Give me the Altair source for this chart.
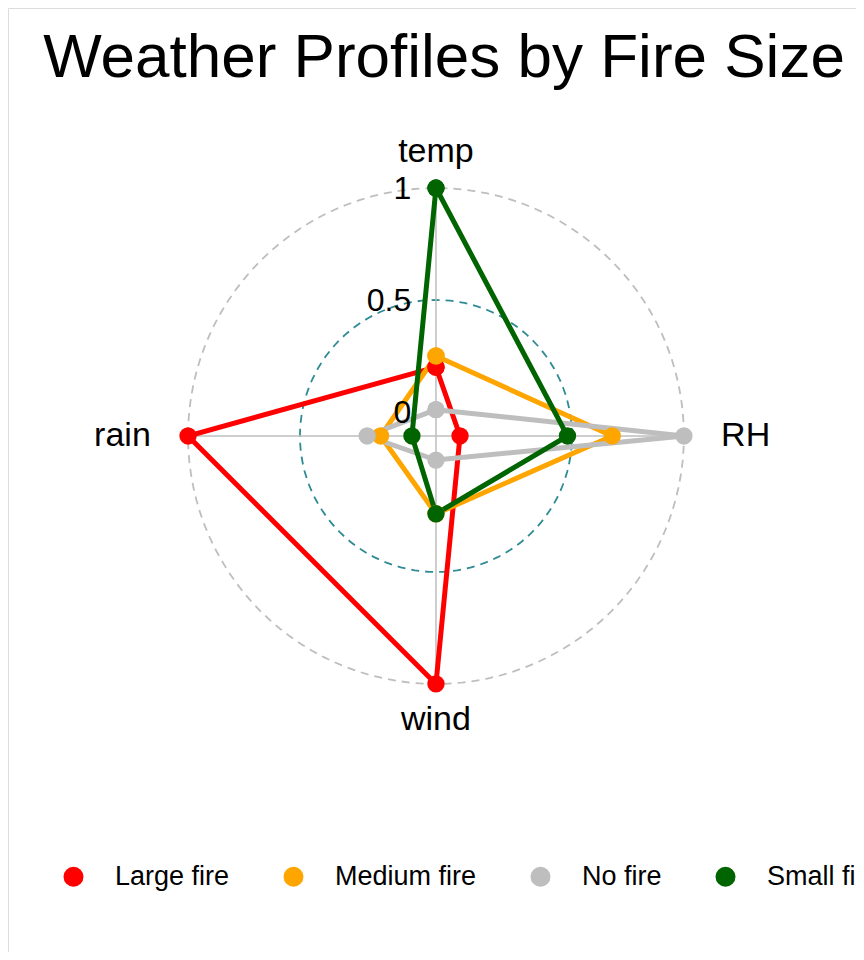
import altair as alt
import pandas as pd

# radar data (ggradar style, scaled 0..1)
groups = ['Large fire', 'Medium fire', 'No fire', 'Small fire']
axes = ['temp', 'RH', 'wind', 'rain']
angles = [90, 0, -90, 180]
large = [0.20, 0.00, 1.00, 1.00]
medium = [0.25, 0.68, 0.24, 0.14]
nofire = [0.01, 1.00, 0.00, 0.20]
small = [1.00, 0.48, 0.24, 0.00]
colors = ['#FF0000', '#FFA500', '#BEBEBE', '#006400']
grid_levels = [0.5, 1.0]
grid_labels = ['0', '0.5', '1']
grid_label_vals = [0.0, 0.5, 1.0]

rows = []
for g, vals in zip(groups, [large, medium, nofire, small]):
    for i in range(5):
        k = i % 4
        rows.append({'group': g, 'axis': axes[k], 'ang': angles[k], 'v': vals[k], 'ord': i})
df = pd.DataFrame(rows)

font = 'Liberation Sans'
xs = alt.Scale(domain=[-1.726, 1.694], nice=False, zero=False)
ys = alt.Scale(domain=[-2.081, 1.726], nice=False, zero=False)
X = lambda: alt.X('x:Q', scale=xs, axis=None)
Y = lambda: alt.Y('y:Q', scale=ys, axis=None)
rad = '(0.097 + 0.903 * datum.v)'

circ_base = alt.Chart(alt.sequence(0, 361, 3, as_='deg'))
circles = []
for lvl, col in zip(grid_levels, ['#2E8B94', '#BEBEBE']):
    circles.append(circ_base.transform_calculate(
        x=f'{0.097 + 0.903 * lvl} * cos(datum.deg * PI / 180)',
        y=f'{0.097 + 0.903 * lvl} * sin(datum.deg * PI / 180)'
    ).mark_line(color=col, strokeDash=[8, 6], strokeWidth=1.8).encode(
        x=X(), y=Y(), order='deg:Q'))

spk = pd.DataFrame({'axis': axes + axes, 'ang': angles + angles,
                    'v': [-0.107] * 4 + [1.0] * 4})
spokes = alt.Chart(spk).transform_calculate(
    x=f'{rad} * cos(datum.ang * PI / 180)', y=f'{rad} * sin(datum.ang * PI / 180)'
).mark_line(color='#BEBEBE', strokeWidth=1.5).encode(x=X(), y=Y(), detail='axis:N')

lab = pd.DataFrame({'axis': axes,
                    'x': [0, 1.15, 0, -1.15], 'y': [1.145, 0, -1.145, 0],
                    'al': ['center', 'left', 'center', 'right']})
axis_text = []
for al in ['center', 'left', 'right']:
    axis_text.append(alt.Chart(lab).transform_filter(alt.datum.al == al).mark_text(
        font=font, fontSize=34, align=al, baseline='middle').encode(
        x=X(), y=Y(), text='axis:N'))

gl = pd.DataFrame({'t': grid_labels, 'v': grid_label_vals})
grid_text = alt.Chart(gl).transform_calculate(x='-0.1', y=f'{rad} - 0.005').mark_text(
    font=font, fontSize=32, align='right', baseline='middle').encode(x=X(), y=Y(), text='t:N')

color = alt.Color('group:N', scale=alt.Scale(domain=groups, range=colors),
                  legend=alt.Legend(title=None, orient='none', direction='horizontal',
                                    legendX=52, legendY=855, labelFont=font, labelFontSize=27,
                                    symbolType='circle', symbolSize=400, columnPadding=50,
                                    labelOffset=28, labelColor='black', symbolStrokeWidth=0))
base = alt.Chart(df).transform_calculate(
    x=f'{rad} * cos(datum.ang * PI / 180)', y=f'{rad} * sin(datum.ang * PI / 180)')
lines = base.mark_line(strokeWidth=5).encode(x=X(), y=Y(), color=color, order='ord:Q')
points = base.mark_circle(size=300, opacity=1).encode(x=X(), y=Y(), color=color)

title = alt.Chart(pd.DataFrame({'t': ['Weather Profiles by Fire Size']})).mark_text(
    font=font, fontSize=62, align='center', baseline='middle').encode(
    x=alt.value(436), y=alt.value(50), text='t:N')

chart = alt.layer(*circles, spokes, lines, points, *axis_text, grid_text, title).properties(
    width=848, height=944, autosize=alt.AutoSizeParams(type='none'), padding=0
).configure_view(strokeWidth=0, stroke=None).configure(background='white')

chart.save("out.html", embed_options={"renderer": "svg", "actions": False})
